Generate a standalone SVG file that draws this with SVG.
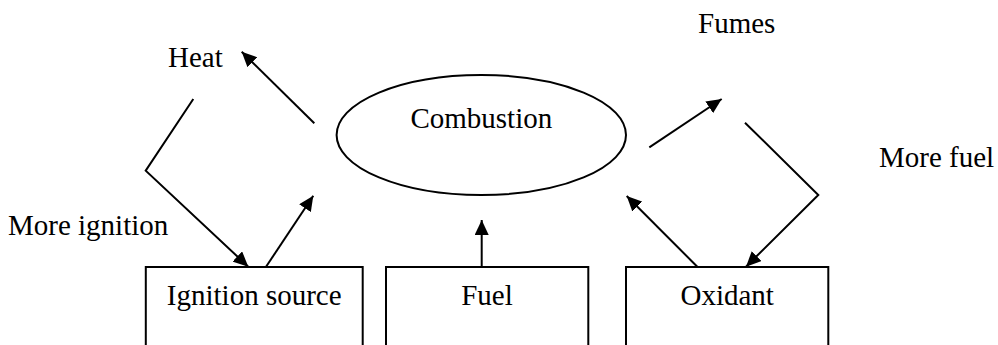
<svg xmlns="http://www.w3.org/2000/svg" width="998" height="345" viewBox="0 0 998 345">
<style>
.t{font-family:'Liberation Serif','Times New Roman',Times,serif;font-size:29px;fill:#000}
.shape{fill:#fff;stroke:#000;stroke-width:2}
.conn{fill:none;stroke:#000;stroke-width:2}
.arr{marker-end:url(#ah)}
</style>
<defs>
<marker id="ah" viewBox="0 0 15 14" refX="15" refY="7" markerWidth="15" markerHeight="14" markerUnits="userSpaceOnUse" orient="auto">
<path d="M0,0 L15,7 L0,14 Z" fill="#000"/>
</marker>
</defs>
<rect width="998" height="345" fill="#fff"/>
<g id="labels">
<text class="t" x="168" y="67">Heat</text>
<text class="t" x="698" y="33">Fumes</text>
<text class="t" x="879" y="167">More fuel</text>
<text class="t" x="8" y="235">More ignition</text>
</g>
<g id="combustion">
<ellipse class="shape" cx="481.3" cy="135" rx="144.7" ry="60"/>
<text class="t" x="481.3" y="128" text-anchor="middle">Combustion</text>
</g>
<g id="ignition-source">
<rect class="shape" x="145.8" y="267" width="216.9" height="100"/>
<text class="t" x="254.2" y="305" text-anchor="middle">Ignition source</text>
</g>
<g id="fuel">
<rect class="shape" x="386" y="267" width="202.3" height="100"/>
<text class="t" x="487" y="305" text-anchor="middle">Fuel</text>
</g>
<g id="oxidant">
<rect class="shape" x="626" y="267" width="202.3" height="100"/>
<text class="t" x="727.2" y="305" text-anchor="middle">Oxidant</text>
</g>
<g id="connectors">
<line class="conn arr" x1="314.3" y1="123.3" x2="241.7" y2="51.7"/>
<polyline class="conn arr" points="193.3,99 145.7,170.7 248.3,266.7"/>
<line class="conn arr" x1="265.7" y1="267.3" x2="313.3" y2="195.7"/>
<line class="conn arr" x1="481.7" y1="266.7" x2="481.7" y2="220"/>
<line class="conn arr" x1="697.3" y1="266.7" x2="626.7" y2="196"/>
<line class="conn arr" x1="649.3" y1="147.3" x2="721.7" y2="99"/>
<polyline class="conn arr" points="745,122.7 818.3,195 746,266.7"/>
</g>
</svg>
